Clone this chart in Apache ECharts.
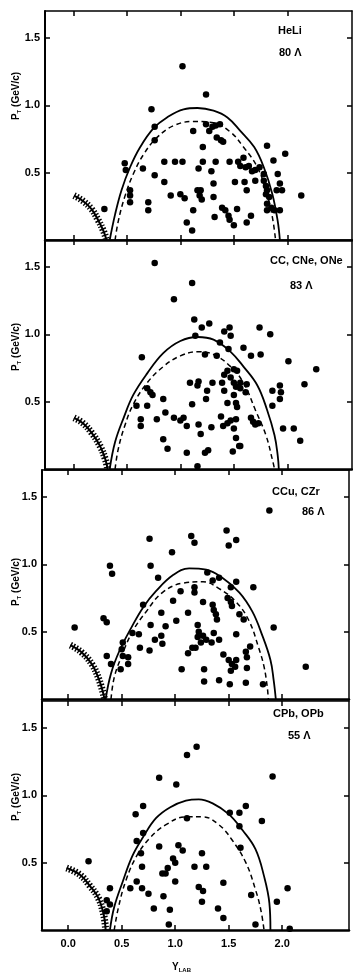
<!DOCTYPE html>
<html>
<head>
<meta charset="utf-8">
<script src="https://cdn.jsdelivr.net/npm/echarts@6/dist/echarts.min.js"></script>
<style>
  html, body { margin: 0; padding: 0; background: #fff; }
  #chart { width: 353px; height: 977px; }
</style>
</head>
<body>
<div id="chart"></div>
<script>
// tick values
const xTicks = [0, 0.5, 1.0, 1.5, 2.0];
const yTicks = [0.5, 1.0, 1.5];

// panel labels
const panelNames = ['HeLi', 'CC, CNe, ONe', 'CCu, CZr', 'CPb, OPb'];
const panelCounts = ['80 Λ', '83 Λ', '86 Λ', '55 Λ'];

// measured Lambda points [y_lab, p_T]
const pointsHeLi = [
  [0.29,0.23],[0.48,0.57],[0.49,0.52],[0.53,0.37],[0.53,0.33],[0.53,0.28],[0.65,0.53],[0.70,0.28],
  [0.70,0.22],[0.73,0.97],[0.76,0.84],[0.76,0.74],[0.76,0.48],[0.85,0.43],[0.85,0.58],[0.91,0.33],
  [0.95,0.58],[1.02,0.58],[1.00,0.34],[1.04,0.31],[1.02,1.29],[1.06,0.13],[1.11,0.07],[1.12,0.22],
  [1.12,0.81],[1.16,0.37],[1.19,0.37],[1.20,0.30],[1.18,0.33],[1.21,0.58],[1.21,0.69],[1.17,0.53],
  [1.24,1.08],[1.24,0.86],[1.27,0.81],[1.30,0.84],[1.33,0.85],[1.37,0.86],[1.31,0.32],[1.31,0.42],
  [1.29,0.51],[1.33,0.58],[1.34,0.76],[1.38,0.74],[1.40,0.73],[1.32,0.17],[1.39,0.24],[1.42,0.22],
  [1.45,0.18],[1.46,0.15],[1.50,0.11],[1.46,0.58],[1.51,0.43],[1.53,0.23],[1.54,0.58],[1.56,0.55],
  [1.59,0.61],[1.61,0.54],[1.64,0.55],[1.67,0.51],[1.70,0.52],[1.60,0.43],[1.62,0.37],[1.62,0.13],
  [1.66,0.18],[1.70,0.44],[1.74,0.54],[1.78,0.49],[1.78,0.44],[1.80,0.40],[1.81,0.37],[1.80,0.34],
  [1.83,0.32],[1.81,0.27],[1.81,0.22],[1.85,0.24],[1.88,0.22],[1.93,0.22],[1.81,0.70],[1.87,0.59],
  [1.91,0.49],[1.93,0.42],[1.95,0.37],[1.90,0.37],[1.98,0.64],[2.13,0.33]
];
const pointsCC = [
  [0.76,1.53],[1.11,1.38],[0.94,1.26],[0.64,0.83],[1.13,1.11],[1.20,1.05],[1.27,1.08],[1.14,0.99],
  [1.41,1.02],[1.46,1.05],[1.47,0.99],[1.74,1.05],[1.84,1.00],[1.37,0.94],[1.45,0.89],[1.59,0.90],
  [1.66,0.84],[1.75,0.85],[1.23,0.85],[1.34,0.84],[2.01,0.80],[2.27,0.74],[2.16,0.63],[1.93,0.62],
  [1.94,0.57],[1.86,0.58],[1.86,0.47],[1.93,0.52],[1.17,0.65],[1.16,0.62],[1.09,0.64],[1.25,0.58],
  [1.30,0.64],[1.39,0.64],[1.41,0.70],[1.44,0.73],[1.50,0.74],[1.53,0.73],[1.47,0.68],[1.50,0.64],
  [1.52,0.61],[1.56,0.64],[1.56,0.60],[1.62,0.63],[1.41,0.58],[1.50,0.55],[1.52,0.49],[1.53,0.46],
  [1.44,0.49],[1.61,0.57],[1.24,0.52],[1.11,0.48],[0.69,0.60],[0.72,0.57],[0.74,0.55],[0.59,0.47],
  [0.69,0.47],[0.84,0.52],[0.86,0.42],[0.63,0.37],[0.63,0.32],[0.78,0.37],[0.94,0.38],[1.00,0.36],
  [1.03,0.38],[1.06,0.32],[1.17,0.33],[1.19,0.26],[1.29,0.31],[1.38,0.39],[1.40,0.32],[1.44,0.34],
  [1.47,0.36],[1.52,0.37],[1.50,0.30],[1.52,0.23],[1.55,0.17],[1.66,0.38],[1.68,0.35],[1.70,0.33],
  [1.73,0.34],[1.96,0.30],[2.06,0.30],[2.12,0.21],[0.84,0.22],[0.88,0.15],[1.06,0.12],[1.23,0.12],
  [1.26,0.14],[1.16,0.02],[1.49,0.13],[1.56,0.17]
];
const pointsCCu = [
  [0.06,0.53],[0.33,0.60],[0.36,0.57],[0.36,0.32],[0.39,0.99],[0.41,0.93],[0.40,0.26],[0.51,0.42],
  [0.50,0.37],[0.51,0.32],[0.49,0.22],[0.56,0.31],[0.56,0.26],[0.60,0.49],[0.66,0.48],[0.67,0.38],
  [0.70,0.70],[0.76,1.19],[0.77,0.99],[0.77,0.55],[0.76,0.36],[0.81,0.44],[0.84,0.90],[0.87,0.64],
  [0.87,0.47],[0.88,0.41],[0.91,0.54],[0.97,1.09],[0.98,0.73],[1.01,0.58],[1.05,0.80],[1.06,0.22],
  [1.12,0.64],[1.12,0.34],[1.15,1.21],[1.18,1.16],[1.18,0.83],[1.18,0.79],[1.21,0.55],[1.22,0.50],
  [1.21,0.46],[1.24,0.42],[1.19,0.38],[1.16,0.38],[1.26,0.47],[1.29,0.44],[1.26,0.72],[1.27,0.22],
  [1.27,0.13],[1.34,0.42],[1.35,0.70],[1.36,0.66],[1.38,0.63],[1.39,0.59],[1.35,0.88],[1.41,0.90],
  [1.30,0.94],[1.36,0.49],[1.41,0.44],[1.41,0.14],[1.45,0.33],[1.48,1.25],[1.50,1.14],[1.57,1.18],
  [1.52,0.83],[1.49,0.75],[1.52,0.72],[1.53,0.69],[1.57,0.87],[1.57,0.48],[1.50,0.29],[1.53,0.26],
  [1.52,0.21],[1.56,0.24],[1.57,0.29],[1.51,0.11],[1.60,0.63],[1.64,0.59],[1.66,0.35],[1.67,0.31],
  [1.67,0.23],[1.66,0.12],[1.70,0.39],[1.73,0.83],[1.82,0.11],[1.88,1.40],[1.92,0.53],[2.22,0.24]
];
const pointsCPb = [
  [0.19,0.51],[0.36,0.22],[0.39,0.19],[0.36,0.14],[0.39,0.31],[0.58,0.31],[0.63,0.86],[0.64,0.66],
  [0.64,0.36],[0.70,0.92],[0.70,0.72],[0.68,0.57],[0.69,0.47],[0.69,0.31],[0.75,0.27],[0.80,0.16],
  [0.85,1.13],[0.85,0.62],[0.88,0.42],[0.91,0.42],[0.89,0.25],[0.93,0.46],[0.95,0.15],[0.94,0.04],
  [0.98,0.53],[1.00,0.50],[1.00,0.36],[1.01,1.08],[1.03,0.63],[1.07,0.59],[1.11,1.30],[1.11,0.83],
  [1.18,0.47],[1.20,1.36],[1.22,0.32],[1.26,0.29],[1.25,0.57],[1.25,0.21],[1.29,0.47],[1.40,0.16],
  [1.45,0.35],[1.45,0.09],[1.51,0.87],[1.60,0.87],[1.66,0.92],[1.60,0.77],[1.61,0.61],[1.71,0.26],
  [1.75,0.04],[1.81,0.81],[1.91,1.14],[1.95,0.21],[2.05,0.31],[2.07,0.01]
];

// kinematic limit curves
const solidHeLi = [[0.34,0],[0.39,0.19],[0.45,0.37],[0.53,0.54],[0.625,0.69],[0.75,0.83],[0.875,0.91],[1.03,0.97],[1.16,0.98],[1.31,0.96],[1.44,0.91],[1.56,0.81],[1.69,0.69],[1.78,0.54],[1.86,0.34],[1.91,0.14],[1.93,0]];
const dashedHeLi = [[0.39,0],[0.42,0.14],[0.48,0.32],[0.56,0.49],[0.66,0.64],[0.78,0.76],[0.94,0.85],[1.125,0.88],[1.31,0.87],[1.47,0.80],[1.59,0.69],[1.72,0.54],[1.81,0.34],[1.86,0.17],[1.89,0]];
const hatchHeLi = [[0.006,0.33],[0.09,0.29],[0.17,0.23],[0.23,0.15],[0.28,0.07],[0.31,0]];

const solidCC = [[0.34,0],[0.39,0.2],[0.47,0.38],[0.56,0.55],[0.69,0.71],[0.84,0.86],[1.0,0.95],[1.16,0.98],[1.31,0.96],[1.47,0.87],[1.59,0.76],[1.72,0.62],[1.81,0.44],[1.88,0.25],[1.91,0.1],[1.92,0]];
const dashedCC = [[0.39,0],[0.42,0.15],[0.48,0.32],[0.56,0.48],[0.69,0.64],[0.84,0.76],[1.0,0.84],[1.16,0.87],[1.31,0.85],[1.47,0.76],[1.59,0.64],[1.70,0.44],[1.80,0.25],[1.86,0.07],[1.88,0]];
const hatchCC = [[0.006,0.38],[0.09,0.34],[0.17,0.27],[0.25,0.17],[0.30,0.07],[0.32,0]];

const solidCCu = [[0.35,0],[0.40,0.19],[0.48,0.36],[0.59,0.53],[0.70,0.68],[0.82,0.80],[0.98,0.92],[1.13,0.97],[1.29,0.96],[1.44,0.90],[1.60,0.79],[1.72,0.65],[1.81,0.48],[1.89,0.29],[1.92,0.14],[1.94,0]];
const dashedCCu = [[0.40,0],[0.43,0.16],[0.50,0.32],[0.60,0.50],[0.73,0.65],[0.88,0.79],[1.07,0.86],[1.26,0.87],[1.41,0.82],[1.57,0.72],[1.69,0.58],[1.78,0.38],[1.83,0.24],[1.86,0.09],[1.87,0]];
const hatchCCu = [[0.02,0.40],[0.12,0.35],[0.22,0.26],[0.29,0.14],[0.34,0]];

const solidCPb = [[0.39,0],[0.43,0.17],[0.51,0.36],[0.60,0.55],[0.70,0.69],[0.82,0.83],[0.95,0.91],[1.10,0.96],[1.22,0.97],[1.35,0.94],[1.50,0.86],[1.63,0.74],[1.75,0.60],[1.83,0.40],[1.88,0.20],[1.89,0]];
const dashedCPb = [[0.43,0],[0.47,0.17],[0.54,0.37],[0.64,0.55],[0.76,0.68],[0.91,0.78],[1.10,0.84],[1.26,0.84],[1.41,0.78],[1.53,0.67],[1.66,0.50],[1.75,0.30],[1.80,0.15],[1.83,0]];
const hatchCPb = [[-0.015,0.46],[0.11,0.41],[0.20,0.33],[0.28,0.24],[0.33,0.12],[0.35,0]];

const panels = [
  { points: pointsHeLi, solid: solidHeLi, dashed: dashedHeLi, hatch: hatchHeLi },
  { points: pointsCC, solid: solidCC, dashed: dashedCC, hatch: hatchCC },
  { points: pointsCCu, solid: solidCCu, dashed: dashedCCu, hatch: hatchCCu },
  { points: pointsCPb, solid: solidCPb, dashed: dashedCPb, hatch: hatchCPb }
];

// layout of the four stacked frames
const tops = [11, 240, 470, 701];
const lefts = [45, 45, 42, 42];
const xMins = [-0.265, -0.265, -0.245, -0.245];
const W = 307, H = 229;
const FONT = 'Liberation Sans';
const nameTops = [96, 347, 582, 797];
const textTops = [[25, 47], [255, 280], [486, 506], [708, 730]];
const textLefts = [[278, 279], [270, 290], [272, 302], [273, 288]];

const grid = [], xAxis = [], yAxis = [], series = [], graphic = [];

panels.forEach((p, i) => {
  grid.push({ left: lefts[i], top: tops[i], width: W, height: H });
  const xMin = xMins[i], xMax = xMins[i] + W / 107;
  const last = i === panels.length - 1;
  xAxis.push({
    type: 'value', gridIndex: i, position: 'bottom', min: xMin, max: xMax,
    splitLine: { show: false },
    axisLine: { onZero: false, lineStyle: { color: '#000', width: 2.5 } },
    axisTick: { inside: true, length: 5, customValues: xTicks, lineStyle: { color: '#000', width: 1.5 } },
    axisLabel: {
      show: last, customValues: xTicks, margin: 8, color: '#000',
      fontFamily: FONT, fontWeight: 'bold', fontSize: 11,
      formatter: v => v.toFixed(1)
    }
  });
  xAxis.push({
    type: 'value', gridIndex: i, position: 'top', min: xMin, max: xMax,
    splitLine: { show: false },
    axisLine: { onZero: false, lineStyle: { color: '#000', width: 1.5 } },
    axisTick: { inside: true, length: 5, customValues: xTicks, lineStyle: { color: '#000', width: 1.5 } },
    axisLabel: { show: false }
  });
  yAxis.push({
    type: 'value', gridIndex: i, position: 'left', min: 0, max: 1.7,
    splitLine: { show: false },
    axisLine: { onZero: false, lineStyle: { color: '#000', width: 2 } },
    axisTick: { inside: true, length: 5, customValues: yTicks, lineStyle: { color: '#000', width: 1.5 } },
    axisLabel: {
      customValues: yTicks, margin: 5, color: '#000',
      fontFamily: FONT, fontWeight: 'bold', fontSize: 11,
      formatter: v => v.toFixed(1)
    }
  });
  yAxis.push({
    type: 'value', gridIndex: i, position: 'right', min: 0, max: 1.7,
    splitLine: { show: false },
    axisLine: { onZero: false, lineStyle: { color: '#000', width: 1.5 } },
    axisTick: { inside: true, length: 5, customValues: yTicks, lineStyle: { color: '#000', width: 1.5 } },
    axisLabel: { show: false }
  });

  const ax = { xAxisIndex: 2 * i, yAxisIndex: 2 * i };
  series.push({ type: 'line', ...ax, data: p.solid, smooth: 0.4, showSymbol: false, silent: true,
    lineStyle: { color: '#000', width: 1.8 } });
  series.push({ type: 'line', ...ax, data: p.dashed, smooth: 0.4, showSymbol: false, silent: true,
    lineStyle: { color: '#000', width: 1.5, type: [5, 3.5] } });
  series.push({ type: 'line', ...ax, data: p.hatch, smooth: 0.4, showSymbol: false, silent: true,
    lineStyle: { color: '#000', width: 2 } });
  series.push({ type: 'line', ...ax, data: p.hatch, smooth: 0.4, showSymbol: false, silent: true,
    lineStyle: { color: '#000', width: 7, type: [1.4, 1.8] } });
  series.push({ type: 'scatter', ...ax, data: p.points, symbolSize: 6.5, silent: true,
    itemStyle: { color: '#000', opacity: 1 } });

  // panel labels
  graphic.push({ type: 'text', left: textLefts[i][0], top: textTops[i][0],
    style: { text: panelNames[i], font: `bold 11px "${FONT}"`, fill: '#000' } });
  graphic.push({ type: 'text', left: textLefts[i][1], top: textTops[i][1],
    style: { text: panelCounts[i], font: `bold 11px "${FONT}"`, fill: '#000' } });
  // y axis name, rotated
  graphic.push({ type: 'text', x: 16, y: nameTops[i], rotation: Math.PI / 2,
    style: {
      text: '{p|P}{s|T}{n| (GeV/c)}', align: 'center', verticalAlign: 'middle', fill: '#000',
      rich: {
        p: { fontFamily: FONT, fontWeight: 'bold', fontSize: 10 },
        s: { fontFamily: FONT, fontWeight: 'bold', fontSize: 6, padding: [6, 0, 0, 0] },
        n: { fontFamily: FONT, fontWeight: 'bold', fontSize: 10 }
      }
    } });
});

graphic.push({ type: 'text', left: 172, top: 962,
  style: {
    text: '{y|Y}{s|LAB}', fill: '#000',
    rich: {
      y: { fontFamily: FONT, fontWeight: 'bold', fontSize: 10 },
      s: { fontFamily: FONT, fontWeight: 'bold', fontSize: 6, padding: [6, 0, 0, 0] }
    }
  } });

const chart = echarts.init(document.getElementById('chart'), null, { renderer: 'canvas' });
chart.setOption({
  animation: false,
  backgroundColor: '#fff',
  grid, xAxis, yAxis, series, graphic
});
</script>
</body>
</html>
